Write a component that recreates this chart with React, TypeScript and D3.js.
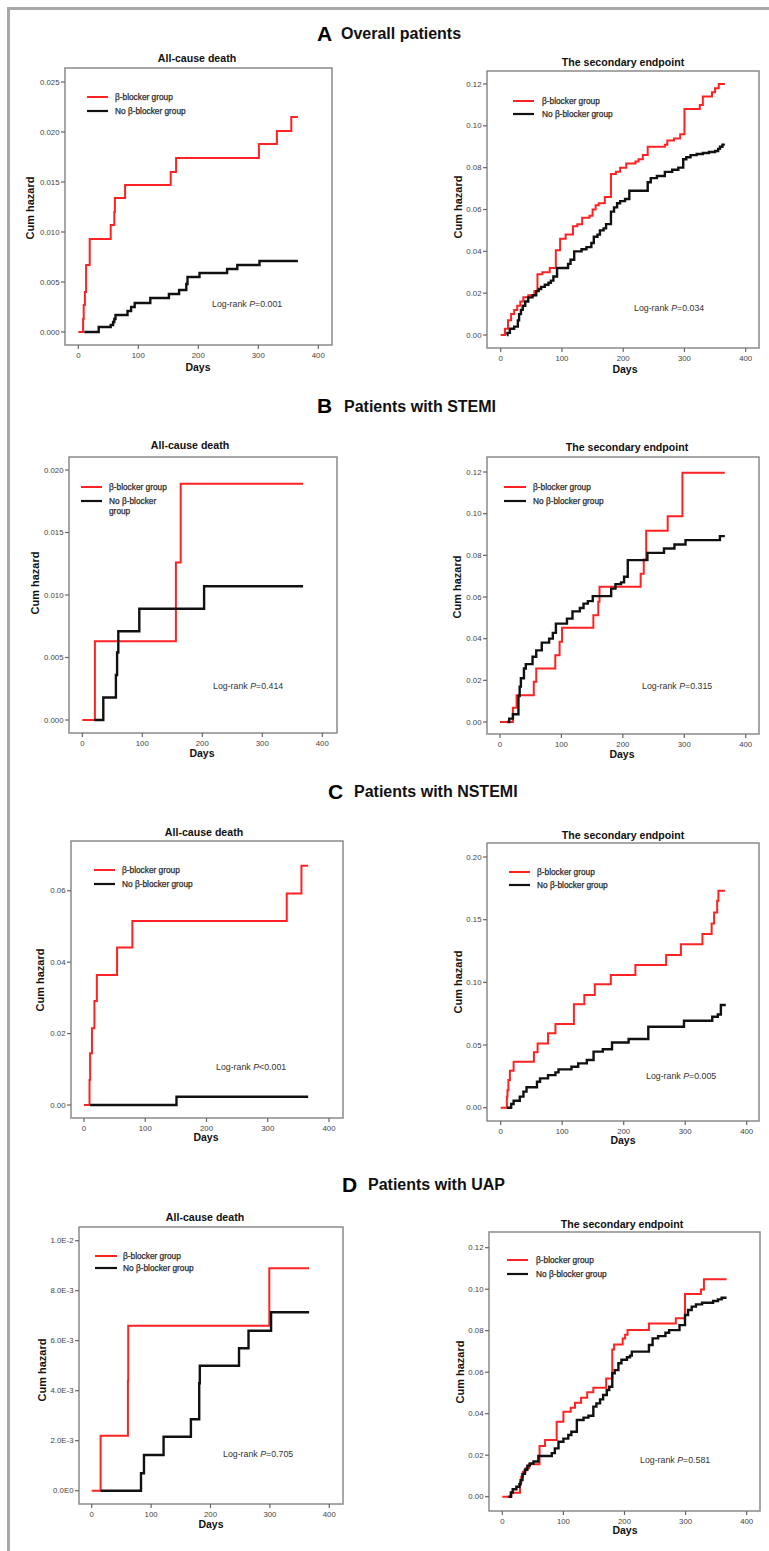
import React from "react";
import * as d3 from "d3";

// ---------- Data (day, cumulative hazard) ----------
const overallDeathBeta: [number, number][] = [[0,0],[8,0.0013],[9,0.0027],[11,0.004],[13,0.0067],[19,0.0093],[54,0.0107],[60,0.012],[61,0.0134],[78,0.0147],[154,0.016],[163,0.0174],[301,0.0188],[331,0.0201],[355,0.0215],[366,0.0215]];
const overallDeathNoBeta: [number, number][] = [[10,0],[34,0.0005],[54,0.0007],[58,0.001],[60,0.0013],[62,0.0017],[82,0.0021],[88,0.0025],[94,0.0029],[120,0.0034],[151,0.0038],[168,0.0042],[180,0.0048],[182,0.0055],[202,0.0059],[248,0.0063],[265,0.0067],[302,0.0071],[366,0.0071]];
const overallSecBeta: [number, number][] = [[0,0],[7,0.003],[12,0.007],[17,0.010],[22,0.012],[27,0.014],[32,0.016],[37,0.018],[45,0.019],[55,0.021],[60,0.029],[68,0.030],[80,0.032],[90,0.0405],[97,0.046],[106,0.048],[118,0.052],[125,0.053],[133,0.056],[145,0.057],[150,0.060],[155,0.062],[160,0.063],[170,0.066],[180,0.077],[188,0.078],[195,0.080],[205,0.082],[220,0.083],[225,0.084],[232,0.086],[240,0.090],[268,0.091],[272,0.093],[283,0.094],[293,0.096],[300,0.108],[325,0.110],[330,0.114],[345,0.116],[350,0.118],[356,0.120],[366,0.120]];
const overallSecNoBeta: [number, number][] = [[10,0],[11,0.001],[15,0.003],[22,0.004],[28,0.007],[30,0.010],[33,0.012],[36,0.014],[40,0.016],[45,0.018],[52,0.019],[58,0.021],[62,0.022],[66,0.023],[72,0.024],[78,0.025],[82,0.026],[86,0.028],[92,0.032],[110,0.034],[114,0.036],[120,0.040],[132,0.041],[140,0.042],[148,0.044],[152,0.047],[158,0.048],[162,0.050],[168,0.051],[172,0.053],[180,0.059],[185,0.061],[190,0.063],[195,0.064],[203,0.065],[210,0.069],[240,0.073],[245,0.075],[255,0.076],[268,0.078],[280,0.079],[290,0.080],[298,0.084],[303,0.085],[310,0.086],[320,0.0865],[330,0.087],[340,0.0875],[350,0.088],[355,0.089],[358,0.090],[362,0.091],[366,0.091]];

const stemiDeathBeta: [number, number][] = [[0,0],[21,0.0063],[156,0.0126],[164,0.0189],[368,0.0189]];
const stemiDeathNoBeta: [number, number][] = [[20,0],[35,0.0018],[56,0.0036],[58,0.0054],[60,0.0071],[95,0.0089],[203,0.0107],[368,0.0107]];
const stemiSecBeta: [number, number][] = [[0,0],[21,0.0068],[27,0.0128],[55,0.0193],[59,0.0257],[90,0.0321],[97,0.0385],[101,0.0452],[152,0.0513],[160,0.0577],[162,0.0649],[229,0.0712],[234,0.078],[238,0.0918],[273,0.0988],[297,0.1196],[366,0.1196]];
const stemiSecNoBeta: [number, number][] = [[12,0],[15,0.0016],[21,0.0037],[30,0.0125],[32,0.017],[34,0.021],[39,0.0257],[42,0.0278],[53,0.0313],[59,0.0344],[68,0.0381],[80,0.040],[86,0.0428],[91,0.0472],[109,0.0496],[118,0.0531],[130,0.0547],[136,0.0568],[143,0.058],[151,0.0604],[181,0.064],[188,0.0662],[197,0.067],[202,0.0697],[208,0.0777],[240,0.0812],[267,0.0833],[284,0.0852],[302,0.0873],[358,0.0892],[366,0.0892]];

const nstemiDeathBeta: [number, number][] = [[0,0],[9,0.007],[10,0.0145],[13,0.0215],[17,0.0291],[21,0.0364],[54,0.0441],[79,0.0515],[331,0.0592],[355,0.067],[366,0.067]];
const nstemiDeathNoBeta: [number, number][] = [[10,0],[151,0.0023],[366,0.0023]];
const nstemiSecBeta: [number, number][] = [[0,0],[10,0.0088],[11,0.014],[12.5,0.022],[15,0.0295],[21,0.0367],[54,0.0442],[60,0.0513],[77,0.0593],[89,0.0667],[119,0.0825],[136,0.090],[153,0.0984],[179,0.1058],[219,0.1138],[269,0.1218],[293,0.1303],[328,0.1385],[343,0.147],[347,0.1558],[352,0.165],[354,0.173],[365,0.173]];
const nstemiSecNoBeta: [number, number][] = [[10,0],[17,0.003],[21,0.0056],[31,0.0088],[37,0.0128],[42,0.0163],[59,0.0207],[64,0.0234],[77,0.026],[89,0.0282],[94,0.0306],[115,0.0327],[126,0.0354],[140,0.038],[151,0.0447],[166,0.0466],[181,0.052],[208,0.0548],[240,0.0646],[298,0.0694],[344,0.0726],[353,0.0744],[358,0.0819],[366,0.0819]];

const uapDeathBeta: [number, number][] = [[0,0],[15,0.0022],[61,0.0044],[61.5,0.0066],[299,0.0089],[366,0.0089]];
const uapDeathNoBeta: [number, number][] = [[15,0],[83,0.0007],[88,0.00143],[121,0.00216],[167,0.00286],[181,0.0043],[182,0.005],[248,0.0057],[264,0.0064],[302,0.00714],[366,0.00714]];
const uapSecBeta: [number, number][] = [[0,0],[15,0.0019],[29,0.007],[31,0.0096],[34,0.012],[38,0.0137],[44,0.0156],[61,0.0244],[70,0.0273],[89,0.0361],[100,0.041],[112,0.0429],[119,0.0453],[129,0.0477],[139,0.0503],[149,0.0525],[170,0.057],[180,0.071],[183,0.0734],[197,0.0763],[201,0.078],[205,0.0803],[240,0.0835],[284,0.086],[299,0.0977],[325,0.0999],[330,0.1048],[367,0.1048]];
const uapSecNoBeta: [number, number][] = [[10,0],[14,0.002],[17,0.0036],[23,0.0048],[28,0.006],[30,0.008],[33,0.011],[37,0.013],[41,0.015],[45,0.016],[51,0.017],[59,0.0196],[81,0.021],[86,0.0233],[92,0.0265],[100,0.028],[108,0.0297],[113,0.0313],[122,0.037],[133,0.0381],[141,0.039],[149,0.0434],[154,0.045],[160,0.0469],[165,0.049],[171,0.0514],[175,0.053],[180,0.0595],[184,0.061],[190,0.0643],[195,0.066],[204,0.0672],[209,0.068],[212,0.0699],[240,0.0731],[246,0.0763],[255,0.0774],[267,0.079],[273,0.0803],[290,0.0827],[299,0.0876],[304,0.09],[310,0.0916],[317,0.0927],[327,0.0935],[345,0.0943],[353,0.0951],[359,0.0959],[367,0.0959]];

// ---------- Ticks & labels ----------
const dayTicks = [0, 100, 200, 300, 400];
const ticksDeathA = [0, 0.005, 0.01, 0.015, 0.02, 0.025];
const ticksDeathB = [0, 0.005, 0.01, 0.015, 0.02];
const ticksDeathC = [0, 0.02, 0.04, 0.06];
const ticksDeathD = [0, 0.002, 0.004, 0.006, 0.008, 0.01];
const ticksSec12 = [0, 0.02, 0.04, 0.06, 0.08, 0.1, 0.12];
const ticksSecC = [0, 0.05, 0.1, 0.15, 0.2];
const pValues = ["0.001", "0.034", "0.414", "0.315", "<0.001", "0.005", "0.705", "0.581"];
const sectionLetters = ["A", "B", "C", "D"];
const sectionTitles = ["Overall patients", "Patients with STEMI", "Patients with NSTEMI", "Patients with UAP"];
const legendLabels = ["β-blocker group", "No β-blocker group"];

const FONT = "'Liberation Sans', Arial, Helvetica, sans-serif";
const RED = "#ff2222";
const BLACK = "#111111";

const fmt3 = d3.format(".3f");
const fmt2 = d3.format(".2f");
const fmtE = (v: number) => (v === 0 ? "0.0E0" : d3.format(".1e")(v).toUpperCase().replace("+", ""));

type Cfg = {
  title: string;
  frame: { l: number; t: number; r: number; b: number };
  x0: number; x400: number;
  y0: number; yTopVal: number; yTopPx: number;
  yTicks: number[]; yFmt: (v: number) => string;
  titleY: number; titleX: number;
  cumX: number; cumY: number;
  daysX: number; daysY: number;
  legX1: number; legX2: number; legTextX: number; legRedY: number; legBlackY: number;
  splitLegend?: boolean;
  pX: number; pY: number; p: string;
  beta: [number, number][]; noBeta: [number, number][];
};

const panels: Cfg[] = [
  { title: "All-cause death", frame: { l: 65, t: 68, r: 332, b: 345 }, x0: 78.3, x400: 318.3, y0: 332, yTopVal: 0.025, yTopPx: 82, yTicks: ticksDeathA, yFmt: fmt3,
    titleX: 197, titleY: 58, cumX: 30, cumY: 208, daysX: 198, daysY: 367, legX1: 87, legX2: 108, legTextX: 115, legRedY: 97, legBlackY: 111, pX: 212, pY: 304, p: pValues[0], beta: overallDeathBeta, noBeta: overallDeathNoBeta },
  { title: "The secondary endpoint", frame: { l: 487, t: 71, r: 759, b: 348 }, x0: 500.7, x400: 745.7, y0: 335, yTopVal: 0.12, yTopPx: 84, yTicks: ticksSec12, yFmt: fmt2,
    titleX: 623, titleY: 62, cumX: 458, cumY: 207, daysX: 625, daysY: 369, legX1: 513, legX2: 534, legTextX: 542, legRedY: 101, legBlackY: 114, pX: 634, pY: 308, p: pValues[1], beta: overallSecBeta, noBeta: overallSecNoBeta },
  { title: "All-cause death", frame: { l: 69, t: 457, r: 337, b: 733 }, x0: 82.3, x400: 322.3, y0: 720, yTopVal: 0.02, yTopPx: 470, yTicks: ticksDeathB, yFmt: fmt3,
    titleX: 190, titleY: 445, cumX: 35, cumY: 583, daysX: 202, daysY: 753, legX1: 81, legX2: 102, legTextX: 109, legRedY: 487, legBlackY: 501, splitLegend: true, pX: 213, pY: 686, p: pValues[2], beta: stemiDeathBeta, noBeta: stemiDeathNoBeta },
  { title: "The secondary endpoint", frame: { l: 487, t: 457, r: 759, b: 734 }, x0: 500, x400: 745.7, y0: 722, yTopVal: 0.12, yTopPx: 472, yTicks: ticksSec12, yFmt: fmt2,
    titleX: 627, titleY: 447, cumX: 457, cumY: 587, daysX: 622, daysY: 754, legX1: 504, legX2: 526, legTextX: 533, legRedY: 487, legBlackY: 501, pX: 642, pY: 686, p: pValues[3], beta: stemiSecBeta, noBeta: stemiSecNoBeta },
  { title: "All-cause death", frame: { l: 71, t: 841, r: 343, b: 1118 }, x0: 84, x400: 329, y0: 1105, yTopVal: 0.06, yTopPx: 890.7, yTicks: ticksDeathC, yFmt: fmt2,
    titleX: 204, titleY: 832, cumX: 40, cumY: 980, daysX: 206, daysY: 1137, legX1: 94, legX2: 115, legTextX: 122, legRedY: 870, legBlackY: 884, pX: 216, pY: 1067, p: pValues[4], beta: nstemiDeathBeta, noBeta: nstemiDeathNoBeta },
  { title: "The secondary endpoint", frame: { l: 487, t: 843, r: 759, b: 1121 }, x0: 500.7, x400: 746.7, y0: 1107.7, yTopVal: 0.2, yTopPx: 857, yTicks: ticksSecC, yFmt: fmt2,
    titleX: 623, titleY: 835, cumX: 458, cumY: 982, daysX: 623, daysY: 1140, legX1: 509, legX2: 530, legTextX: 537, legRedY: 872, legBlackY: 885, pX: 646, pY: 1076, p: pValues[5], beta: nstemiSecBeta, noBeta: nstemiSecNoBeta },
  { title: "All-cause death", frame: { l: 79, t: 1227, r: 343, b: 1504 }, x0: 91.7, x400: 329.3, y0: 1490.7, yTopVal: 0.01, yTopPx: 1240.7, yTicks: ticksDeathD, yFmt: fmtE,
    titleX: 205, titleY: 1217, cumX: 42, cumY: 1370, daysX: 211, daysY: 1524, legX1: 95, legX2: 117, legTextX: 123, legRedY: 1256, legBlackY: 1268, pX: 223, pY: 1454, p: pValues[6], beta: uapDeathBeta, noBeta: uapDeathNoBeta },
  { title: "The secondary endpoint", frame: { l: 489, t: 1232, r: 760, b: 1511 }, x0: 502.3, x400: 746.7, y0: 1496.7, yTopVal: 0.12, yTopPx: 1247.7, yTicks: ticksSec12, yFmt: fmt2,
    titleX: 622, titleY: 1224, cumX: 460, cumY: 1372, daysX: 625, daysY: 1530, legX1: 507, legX2: 528, legTextX: 536, legRedY: 1260, legBlackY: 1274, pX: 640, pY: 1460, p: pValues[7], beta: uapSecBeta, noBeta: uapSecNoBeta },
];

const headers = [
  { letterX: 317, letterY: 41, textX: 341, textY: 39 },
  { letterX: 317, letterY: 413, textX: 344, textY: 412 },
  { letterX: 328, letterY: 799, textX: 354, textY: 797 },
  { letterX: 342, letterY: 1192, textX: 368, textY: 1190 },
];

function Panel({ c }: { c: Cfg }) {
  const x = d3.scaleLinear().domain([0, 400]).range([c.x0, c.x400]);
  const y = d3.scaleLinear().domain([0, c.yTopVal]).range([c.y0, c.yTopPx]);
  const line = d3.line<[number, number]>().x((d) => x(d[0])).y((d) => y(d[1])).curve(d3.curveStepAfter);
  const f = c.frame;
  return (
    <g>
      <text x={c.titleX} y={c.titleY} textAnchor="middle" dominantBaseline="central" fontFamily={FONT} fontWeight="bold" fontSize={10.6} fill="#111">{c.title}</text>
      <rect x={f.l} y={f.t} width={f.r - f.l} height={f.b - f.t} fill="#fff" stroke="#8a8a8a" strokeWidth={1.5} />
      {c.yTicks.map((v, i) => (
        <g key={"y" + i}>
          <line x1={f.l - 4} x2={f.l} y1={y(v)} y2={y(v)} stroke="#666" strokeWidth={1.2} />
          <text x={f.l - 5.5} y={y(v)} textAnchor="end" dominantBaseline="central" fontFamily={FONT} fontSize={7.8} fill="#444">{c.yFmt(v)}</text>
        </g>
      ))}
      {dayTicks.map((v, i) => (
        <g key={"x" + i}>
          <line x1={x(v)} x2={x(v)} y1={f.b} y2={f.b + 4} stroke="#666" strokeWidth={1.2} />
          <text x={x(v)} y={f.b + 10} textAnchor="middle" dominantBaseline="central" fontFamily={FONT} fontSize={7.8} fill="#444">{v}</text>
        </g>
      ))}
      <text x={c.daysX} y={c.daysY} textAnchor="middle" dominantBaseline="central" fontFamily={FONT} fontWeight="bold" fontSize={10.5} fill="#111">Days</text>
      <text transform={`translate(${c.cumX},${c.cumY}) rotate(-90)`} textAnchor="middle" dominantBaseline="central" fontFamily={FONT} fontWeight="bold" fontSize={11} fill="#111">Cum hazard</text>
      <path d={line(c.beta) || ""} fill="none" stroke={RED} strokeWidth={2} />
      <path d={line(c.noBeta) || ""} fill="none" stroke={BLACK} strokeWidth={2.4} />
      <line x1={c.legX1} x2={c.legX2} y1={c.legRedY} y2={c.legRedY} stroke={RED} strokeWidth={2} />
      <line x1={c.legX1} x2={c.legX2} y1={c.legBlackY} y2={c.legBlackY} stroke={BLACK} strokeWidth={2.2} />
      <text x={c.legTextX} y={c.legRedY} dominantBaseline="central" fontFamily={FONT} fontSize={8.3} fill="#2a2a2a" stroke="#2a2a2a" strokeWidth={0.25}>{legendLabels[0]}</text>
      {c.splitLegend ? (
        <text x={c.legTextX} y={c.legBlackY} dominantBaseline="central" fontFamily={FONT} fontSize={8.3} fill="#2a2a2a" stroke="#2a2a2a" strokeWidth={0.25}>
          <tspan x={c.legTextX}>No β-blocker</tspan>
          <tspan x={c.legTextX} dy={10}>group</tspan>
        </text>
      ) : (
        <text x={c.legTextX} y={c.legBlackY} dominantBaseline="central" fontFamily={FONT} fontSize={8.3} fill="#2a2a2a" stroke="#2a2a2a" strokeWidth={0.25}>{legendLabels[1]}</text>
      )}
      <text x={c.pX} y={c.pY} dominantBaseline="central" fontFamily={FONT} fontSize={8.8} fill="#333">
        Log-rank <tspan fontStyle="italic">P</tspan>{c.p.startsWith("<") ? c.p : "=" + c.p}
      </text>
    </g>
  );
}

export default function App() {
  return (
    <svg width={769} height={1551} style={{ position: "absolute", left: 0, top: 0, background: "#fff" }}>
      <rect x={0} y={0} width={769} height={1551} fill="#fff" />
      <line x1={7} x2={769} y1={8.5} y2={8.5} stroke="#a8a8a8" strokeWidth={3} />
      <line x1={8.5} x2={8.5} y1={7} y2={1551} stroke="#a8a8a8" strokeWidth={3} />
      {headers.map((h, i) => (
        <g key={"h" + i}>
          <text x={h.letterX} y={h.letterY} fontFamily={FONT} fontWeight="bold" fontSize={21} fill="#000">{sectionLetters[i]}</text>
          <text x={h.textX} y={h.textY} fontFamily={FONT} fontWeight="bold" fontSize={16} fill="#111">{sectionTitles[i]}</text>
        </g>
      ))}
      {panels.map((c, i) => (
        <Panel key={i} c={c} />
      ))}
    </svg>
  );
}
